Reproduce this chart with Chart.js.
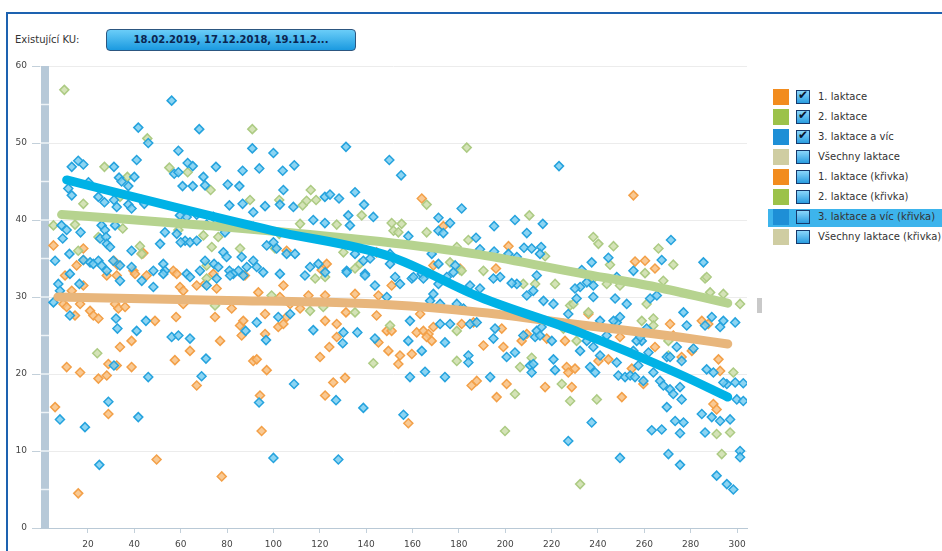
<!DOCTYPE html>
<html lang="cs">
<head>
<meta charset="utf-8">
<script src="https://cdn.jsdelivr.net/npm/chart.js@4.4.1/dist/chart.umd.min.js"></script>
<style>
  html, body { margin: 0; padding: 0; width: 942px; height: 551px; overflow: hidden; background: #fff; font-family: "DejaVu Sans", Verdana, sans-serif; }
  #ramecek { position: absolute; left: 6px; top: 12px; width: 1000px; height: 600px; border-left: 2px solid #1d62b0; border-top: 2px solid #1d62b0; }
  #popisKU { position: absolute; left: 15px; top: 34px; font-size: 10px; color: #333; }
  #tlacitko { position: absolute; left: 106px; top: 29px; width: 248px; height: 20px; border: 1px solid #2c5680; border-radius: 4px;
              background: linear-gradient(#6acdf8, #1b9ae0); color: #0b2550; font-weight: bold; font-size: 10px; line-height: 20px; text-align: center; }
  #graf { position: absolute; left: 0; top: 0; }
  #posuvnik { position: absolute; left: 757px; top: 298px; width: 5px; height: 15px; background: #c9c9c9; }
  #legenda { position: absolute; left: 768px; top: 87px; width: 174px; }
  .radek { position: relative; height: 20px; font-size: 10px; color: #333; }
  .radek.vybrany .pas { position: absolute; left: 0; top: 2px; width: 174px; height: 18px; background: #3db4ec; }
  .barva { position: absolute; left: 5px; top: 2px; width: 16px; height: 16px; }
  .box { position: absolute; left: 28px; top: 3px; width: 12px; height: 12px; border: 1px solid #16386a; background: linear-gradient(#8ad6fa, #2a9de0); }
  .fajfka { position: absolute; left: 1px; top: -3px; font-size: 12px; font-weight: bold; color: #08152e; }
  .text { position: absolute; left: 50px; top: 0; line-height: 20px; white-space: nowrap; }
</style>
</head>
<body>
<div id="ramecek"></div>
<div id="popisKU">Existující KU:</div>
<div id="tlacitko">18.02.2019, 17.12.2018, 19.11.2...</div>
<canvas id="graf" width="760" height="551"></canvas>
<div id="posuvnik"></div>
<div id="legenda"></div>
<script>
// 1. laktace (oranžová)
const laktace1 = [
  [5.1,36.7],[18.0,36.3],[15.1,34.1],[18.0,34.8],[31.2,34.7],[32.7,34.2],[39.6,33.4],[43.2,35.6],[43.9,35.7],[56.8,33.4],
  [58.3,33.0],[74.1,33.0],[105.7,36.0],[120.8,33.5],[123.0,34.3],[87.7,32.8],[144.5,35.8],
  [10.1,32.8],[9.4,29.1],[10.8,28.7],[13.0,30.8],[14.4,27.6],[18.0,31.5],[20.9,28.2],[22.3,27.6],[24.5,27.2],[28.1,32.8],
  [32.4,32.8],[40.3,33.0],[45.3,32.8],[59.7,31.3],[61.1,30.8],[66.9,31.5],[70.5,31.7],[75.5,31.1],[31.7,29.1],[33.1,28.5],
  [36.0,28.7],[33.8,23.5],[32.4,21.1],[28.8,21.3],[28.1,19.8],[24.5,19.4],[16.6,20.2],[10.8,20.9],[5.8,15.7],[28.8,14.8],
  [38.8,24.3],[38.8,20.9],[48.9,26.9],[58.0,27.4],[57.5,21.8],[64.0,23.0],[66.9,18.5],[77.0,24.3],[82.0,28.5],[85.6,26.3],
  [86.3,25.0],[87.0,26.9],[91.3,21.7],[92.8,21.9],[97.1,20.5],[94.2,17.2],[94.9,12.6],[96.4,25.2],[96.4,27.8],[102.1,26.1],
  [104.3,26.5],[105.7,27.4],[120.1,22.2],[122.3,26.9],[124.1,23.5],[125.8,18.9],[127.3,24.8],[127.3,26.5],[130.9,19.5],
  [131.3,28.0],[122.3,17.2],[135.2,30.4],[144.5,27.6],[145.3,24.1],[149.6,23.0],[148.9,25.6],[145.3,30.2],[49.6,8.9],
  [77.7,6.7],[15.8,4.5],[74.8,27.4],[61.1,29.1],[16.6,29.1],[93.5,30.6],[102.8,30.0],[107.2,29.1],[115.1,30.2],[111.5,28.5],
  [104.3,31.5],[122.3,30.2],
  [164.0,42.8],[255.3,43.2],[173.3,39.2],[201.4,36.6],[196.0,33.7],[256.0,34.6],[260.3,34.7],[264.6,33.7],[180.5,33.7],[169.0,34.1],
  [151.0,31.5],[151.0,25.6],[154.6,22.4],[153.9,21.3],[163.3,27.8],[161.8,25.4],[164.7,25.6],[166.9,25.2],[166.1,24.8],
  [169.0,26.1],[168.3,24.3],[181.2,26.5],[186.3,26.7],[190.6,23.7],[185.5,18.5],[187.7,19.1],[196.3,17.0],[200.6,18.7],
  [199.2,23.5],[198.5,25.9],[207.1,24.3],[209.3,25.2],[217.9,24.6],[217.2,18.3],[225.8,24.3],[226.5,20.9],[227.2,20.2],
  [228.7,18.3],[230.1,20.7],[235.9,27.8],[240.2,21.7],[244.5,21.9],[249.5,24.8],[250.3,17.0],[254.6,20.7],[259.6,18.7],
  [264.6,23.5],[271.1,26.5],[272.5,25.0],[276.1,22.2],[280.5,23.0],[284.8,26.9],[287.6,26.5],[289.8,16.1],[291.2,15.4],
  [292.0,21.9],[292.7,20.4],[158.2,13.6],[159.7,22.6]
];

// 2. laktace (zelená)
const laktace2 = [
  [9.8,56.9],[90.9,51.8],[45.6,50.6],[27.1,46.9],[55.1,46.8],[63.0,46.2],[37.0,45.6],[33.8,43.0],[72.9,43.9],[116.1,43.9],
  [118.4,42.6],[102.5,42.6],[89.9,42.6],[112.6,41.9],[114.3,42.5],[138.1,40.6],[127.3,39.4],[111.5,39.5],[5.1,39.3],[14.4,39.4],
  [35.0,38.9],[24.5,37.8],[42.4,36.6],[43.2,35.6],[59.0,38.7],[69.8,38.0],[73.4,36.5],[76.2,37.8],[85.6,36.3],[100.7,36.3],
  [102.5,38.2],[15.8,36.0],[71.2,34.1],[130.2,35.8],[137.3,34.3],[135.2,33.7],[18.0,42.1],
  [24.0,22.7],[143.1,21.4],[74.8,28.9],[71.2,32.4],[99.2,30.2],[118.0,32.4],[122.3,32.6],[135.2,28.0],[115.8,28.2],[121.5,28.7],
  [183.4,49.4],[166.1,42.0],[151.0,39.6],[155.3,39.5],[151.8,38.6],[153.9,38.4],[166.1,38.4],[210.4,40.6],[184.1,37.4],
  [217.2,35.3],[238.0,37.8],[240.2,36.9],[246.7,36.6],[245.2,34.2],[266.1,36.3],[272.5,34.2],[260.3,33.1],[286.2,32.4],
  [179.1,36.5],[176.2,34.5],[180.5,33.5],
  [150.3,26.3],[179.1,25.6],[179.1,21.7],[204.2,17.4],[199.9,12.6],[211.4,22.1],[206.4,20.9],[224.4,18.7],[228.0,16.5],
  [239.5,16.7],[232.3,5.7],[291.2,12.2],[297.0,12.4],[293.4,9.6],[298.4,20.2],[286.9,32.6],[294.1,30.4],[301.3,29.1],
  [288.4,30.6],[268.2,32.1],[261.0,29.1],[258.9,26.9],[263.9,27.2],[263.9,26.3],[270.4,24.3],[270.4,22.4],[249.5,31.5],
  [243.8,31.7],[238.0,32.4],[228.0,28.9],[229.4,29.1],[235.9,28.0],[225.1,25.9],[221.5,31.7],[207.8,31.7],[212.9,31.7],
  [190.6,33.4],[181.2,33.4],[230.8,24.3]
];

// 3. laktace a víc (modrá)
const laktace3 = [
  [56.1,55.5],[68.0,51.8],[41.7,52.0],[46.0,50.0],[90.9,49.3],[131.3,49.5],[59.0,49.0],[100.0,48.7],[41.0,47.8],[13.0,46.9],
  [15.8,47.7],[18.0,47.2],[31.2,46.9],[63.0,47.4],[65.2,47.0],[57.2,46.0],[59.0,46.2],[75.2,46.9],[86.7,46.4],[93.9,46.7],
  [104.0,46.4],[109.0,47.1],[11.5,44.1],[13.0,43.2],[20.2,44.9],[33.4,45.5],[34.5,45.0],[40.0,45.6],[37.4,44.4],
  [24.5,43.0],[27.1,42.3],[31.2,42.6],[32.4,41.7],[37.4,42.0],[38.8,41.5],[43.2,42.6],[44.3,42.1],[60.8,44.4],[65.2,44.4],
  [69.8,45.6],[70.5,44.5],[80.3,44.6],[85.3,44.4],[104.3,43.9],[86.7,42.1],[81.0,41.9],[96.4,41.8],[102.8,42.0],[108.6,41.7],
  [122.2,43.0],[124.4,43.3],[128.3,42.8],[135.2,43.6],[139.1,42.0],[132.3,40.6],[143.1,40.4],[117.2,40.0],[122.2,39.6],
  [133.0,39.3],[91.3,41.0],[91.3,39.1],[59.7,40.6],[62.6,40.4],[66.9,40.7],[71.2,39.4],[74.1,40.4],[79.1,38.4],[87.7,39.1],
  [8.6,39.3],[10.8,38.7],[9.1,37.6],[16.8,38.4],[25.9,39.3],[27.3,38.7],[31.7,39.3],[25.2,37.6],[27.8,37.8],[28.1,36.9],
  [29.5,36.5],[38.8,36.0],[51.1,36.9],[53.2,38.4],[58.3,38.2],[61.9,37.3],[60.0,37.1],[64.0,37.1],[66.9,37.3],[78.4,35.8],
  [79.8,35.2],[97.1,36.7],[100.0,37.1],[101.4,36.3],[105.7,35.6],[109.3,35.6],[86.3,35.2],[91.3,34.7],[92.8,33.9],[84.9,33.4],
  [88.5,33.9],[74.4,34.3],[76.2,33.9],[81.0,33.4],[82.7,33.0],[62.6,33.0],[68.3,33.4],[70.5,34.7],[48.2,33.4],[52.5,34.3],
  [53.2,33.4],[33.8,34.1],[5.8,34.7],[12.0,35.6],[18.0,34.8],[20.9,34.5],[22.3,34.3],[24.5,34.7],[25.9,34.1],[28.1,33.4],
  [30.9,34.7],[38.8,33.9],[115.8,33.9],[119.4,34.3],[135.2,35.6],[138.8,34.7],[141.7,35.0],[131.6,33.4],[139.5,33.0],
  [5.1,29.3],[7.2,31.7],[7.9,30.8],[12.2,33.0],[12.2,27.6],[16.3,31.7],[33.8,32.1],[43.2,32.1],[48.2,31.3],[52.5,33.0],
  [64.0,32.6],[71.2,31.5],[75.5,32.4],[81.3,32.8],[87.0,32.8],[95.6,33.2],[102.8,33.0],[113.6,32.8],[122.3,33.2],[131.6,33.2],
  [139.5,32.8],[143.8,31.5],[32.1,27.2],[32.7,25.9],[41.0,25.6],[45.0,26.9],[56.1,24.8],[59.0,25.0],[64.0,24.6],[70.9,22.0],
  [69.0,19.7],[31.2,21.1],[28.8,16.4],[7.9,14.1],[18.7,13.1],[24.9,8.2],[41.7,14.4],[46.0,19.6],[92.8,26.7],[88.0,25.6],
  [96.8,24.4],[102.1,27.4],[107.2,27.8],[117.2,25.7],[130.2,25.4],[129.9,24.0],[136.2,25.4],[143.8,24.6],[138.8,15.6],
  [127.0,16.6],[93.8,16.3],[108.9,18.7],[100.0,9.1],[128.0,8.9],[148.9,30.0],
  [150.0,47.8],[155.1,45.8],[181.2,41.5],[223.2,47.0],[171.2,40.3],[176.2,39.6],[171.2,38.6],[173.3,38.3],[158.2,37.9],
  [195.2,39.2],[204.2,40.0],[209.3,38.3],[216.2,39.5],[187.4,37.7],[189.1,36.2],[195.2,35.9],[201.4,35.6],[205.0,35.2],
  [208.1,36.4],[211.4,36.3],[215.5,36.5],[215.0,35.6],[213.6,32.8],[244.5,35.1],[237.3,34.5],[233.0,33.5],[271.5,37.4],
  [267.5,34.8],[255.3,33.4],[285.5,34.5],[168.3,35.6],[171.2,34.3],[178.4,34.1],[177.6,33.2],[164.0,33.0],[159.7,32.4],
  [152.5,32.6],[150.3,34.3],[150.3,35.6],[248.1,32.6],
  [154.6,31.7],[160.4,32.6],[164.7,32.4],[169.0,30.4],[171.2,31.7],[171.9,29.1],[174.8,32.6],[167.6,29.5],[158.9,26.9],
  [158.2,24.3],[164.0,23.0],[165.4,20.3],[174.0,24.1],[174.0,19.6],[158.9,19.6],[156.1,14.7],[171.9,26.5],[176.2,26.5],
  [184.1,22.4],[184.1,21.5],[184.8,26.5],[193.5,19.6],[194.9,24.6],[195.6,25.9],[200.6,22.2],[204.2,22.8],[207.8,25.0],
  [210.7,21.1],[211.4,20.2],[212.1,21.3],[212.9,24.8],[213.6,25.6],[215.0,25.0],[215.7,26.1],[220.8,21.9],[221.5,20.5],
  [220.1,24.3],[232.3,23.0],[236.6,20.9],[238.8,20.2],[237.3,13.7],[227.2,11.3],[235.2,24.3],[238.0,23.5],[240.9,22.4],
  [243.8,25.0],[248.1,21.5],[248.8,19.8],[251.7,19.6],[253.9,19.8],[256.0,19.6],[257.4,21.1],[258.9,24.3],[259.6,19.1],
  [261.8,22.8],[263.9,20.2],[266.8,19.1],[268.2,18.5],[269.7,15.7],[271.1,18.0],[272.5,17.4],[275.4,18.3],[276.1,16.7],
  [273.3,13.9],[276.9,13.7],[275.4,12.3],[270.4,9.6],[275.4,8.2],[263.2,12.7],[267.5,12.8],[249.5,9.1],[284.8,14.8],
  [289.1,14.4],[292.7,13.9],[286.2,12.4],[297.0,14.1],[291.2,6.8],[295.6,5.7],[298.4,5.0],[301.3,10.0],[301.3,9.2],
  [299.9,16.7],[302.7,16.5],[299.2,18.9],[302.7,18.8],[295.6,18.7],[294.1,18.9],[286.9,20.6],[289.8,20.2],[289.1,27.4],
  [294.1,26.9],[299.2,26.7],[292.7,26.1],[286.2,26.3],[276.9,28.0],[278.3,26.3],[281.2,23.3],[269.7,22.2],[271.1,22.2],
  [276.1,21.7],[274.0,23.5],[261.0,25.9],[265.4,30.2],[262.5,29.8],[252.4,29.1],[247.4,29.8],[238.0,30.0],[238.0,31.5],
  [235.2,31.9],[232.3,31.3],[230.1,31.1],[230.8,29.8],[227.2,27.8],[225.1,26.5],[220.8,29.1],[216.5,29.5],[209.3,30.2],
  [212.1,30.8],[205.0,31.7],[202.8,31.8],[197.8,32.6],[194.9,32.4],[189.1,31.1],[184.8,31.5],[179.1,29.1],[182.0,28.5],
  [187.7,26.7],[248.1,26.7],[249.5,27.4],[240.9,26.9],[246.7,26.9],[256.7,24.3],[258.2,24.8],[255.3,23.0]
];

// proložené křivky
const krivka1 = [[7,30.0],[70,29.6],[150,29.0],[190,28.0],[232,26.4],[275,24.8],[296,23.9]];
const krivka2 = [[8.6,40.7],[71,39.3],[146,37.2],[189,35.5],[232,33.1],[265,31.3],[296,29.2]];
const krivka3 = [[10.8,45.2],[57,41.7],[100,38.6],[150,35.3],[189,30.0],[232,25.4],[275,20.0],[296,17.0]];

const popiskyX = [20, 40, 60, 80, 100, 120, 140, 160, 180, 200, 220, 240, 260, 280, 300];
const popiskyY = [0, 10, 20, 30, 40, 50, 60];

const legendaNazvy = ['1. laktace', '2. laktace', '3. laktace a víc', 'Všechny laktace',
  '1. laktace (křivka)', '2. laktace (křivka)', '3. laktace a víc (křivka)', 'Všechny laktace (křivka)'];
const legendaBarvy = ['#f28c1e', '#9cc24a', '#1e8fd6', '#cfcda2', '#f28c1e', '#9cc24a', '#1e8fd6', '#cfcda2'];
const legendaZaskrtnuto = [true, true, true, false, false, false, false, false];

const naBody = pole => pole.map(([x, y]) => ({ x, y }));

// legenda vpravo
const legenda = document.getElementById('legenda');
legendaNazvy.forEach((nazev, i) => {
  const radek = document.createElement('div');
  radek.className = 'radek' + (i === 6 ? ' vybrany' : '');
  radek.innerHTML = (i === 6 ? '<div class="pas"></div>' : '') +
    `<div class="barva" style="background:${legendaBarvy[i]}"></div>` +
    `<div class="box">${legendaZaskrtnuto[i] ? '<span class="fajfka">✔</span>' : ''}</div>` +
    `<div class="text">${nazev}</div>`;
  legenda.appendChild(radek);
});

// šedý pruh u osy Y
const levyPruh = {
  id: 'levyPruh',
  beforeDatasetsDraw(chart) {
    const { ctx, chartArea, scales } = chart;
    ctx.save();
    ctx.fillStyle = '#b7c9d8';
    ctx.fillRect(chartArea.left + 1, chartArea.top, 8, chartArea.bottom - chartArea.top);
    ctx.strokeStyle = '#eef3f7';
    ctx.lineWidth = 1.5;
    for (let v = 5; v < 60; v += 5) {
      const y = scales.y.getPixelForValue(v);
      ctx.beginPath();
      ctx.moveTo(chartArea.left + 1, y);
      ctx.lineTo(chartArea.left + 9, y);
      ctx.stroke();
    }
    ctx.restore();
  }
};

const pismo = { family: 'DejaVu Sans', size: 9 };

const krivka = (data, barva) => ({
  data: naBody(data), showLine: true, borderColor: barva, borderWidth: 9,
  pointRadius: 0, borderCapStyle: 'round', borderJoinStyle: 'round',
  cubicInterpolationMode: 'monotone', fill: false
});
const body = (data, vypln, okraj) => ({
  data: naBody(data), showLine: false, pointStyle: 'rectRot', pointRadius: 4.5,
  backgroundColor: vypln, borderColor: okraj, pointBorderWidth: 1.5
});

new Chart(document.getElementById('graf'), {
  type: 'scatter',
  data: {
    datasets: [
      krivka(krivka3, '#00b2e6'),
      krivka(krivka2, '#b6d38f'),
      krivka(krivka1, '#e8b67c'),
      body(laktace3, 'rgba(120,204,240,0.85)', '#25a3de'),
      body(laktace2, 'rgba(204,222,170,0.85)', '#adcb84'),
      body(laktace1, 'rgba(248,192,128,0.85)', '#f3a048')
    ]
  },
  options: {
    responsive: false,
    animation: false,
    devicePixelRatio: 1,
    events: [],
    layout: { padding: { top: 66, right: 13, left: 0, bottom: 0 } },
    plugins: { legend: { display: false }, tooltip: { enabled: false } },
    scales: {
      x: {
        type: 'linear', min: -0.7, max: 304.3,
        afterBuildTicks: s => { s.ticks = popiskyX.map(v => ({ value: v })); },
        afterFit: s => { s.height = 23; },
        grid: { drawOnChartArea: false, tickLength: 5, color: '#c3d0da' },
        border: { color: '#b9c9d6' },
        ticks: { font: pismo, color: '#444', padding: 6, maxRotation: 0 }
      },
      y: {
        min: 0, max: 60,
        afterBuildTicks: s => { s.ticks = popiskyY.map(v => ({ value: v })); },
        afterFit: s => { s.width = 40; },
        grid: { color: '#ececec', tickColor: '#c3d0da', tickLength: 8 },
        border: { display: false },
        ticks: { font: pismo, color: '#444', padding: 5 }
      }
    }
  },
  plugins: [levyPruh]
});
</script>
</body>
</html>
